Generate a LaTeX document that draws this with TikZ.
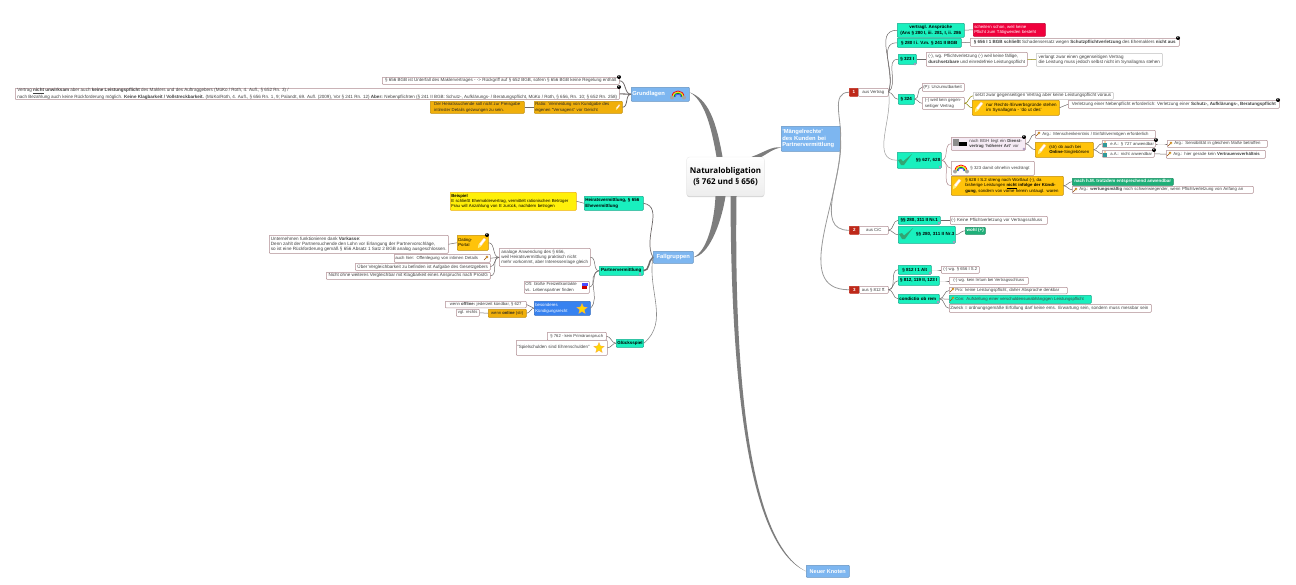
\documentclass[tikz,border=0pt]{standalone}
\usepackage{fontspec}
\setmainfont{Liberation Sans}
\newfontfamily\rootfont{Open Sans}
\usetikzlibrary{positioning,arrows.meta,shapes.geometric,shadows}
\definecolor{boxrose}{RGB}{175,140,145}
\definecolor{linkgray}{RGB}{110,105,105}
\definecolor{ribbongray}{RGB}{125,125,125}
\definecolor{tealfill}{RGB}{25,240,190}
\definecolor{tealdraw}{RGB}{20,170,140}
\definecolor{skyfill}{RGB}{125,182,240}
\definecolor{bluefill}{RGB}{55,130,240}
\definecolor{orangefill}{RGB}{240,175,10}
\definecolor{goldfill}{RGB}{255,195,10}
\definecolor{yellowfill}{RGB}{255,240,10}
\definecolor{redfill}{RGB}{240,0,60}
\definecolor{greenfill}{RGB}{30,175,120}
\definecolor{numred}{RGB}{190,40,25}
\definecolor{leafgreen}{RGB}{50,165,115}
\newcommand{\mapfont}{\fontsize{4.3}{5.3}\selectfont}
\newcommand{\boldfont}{\fontsize{4.5}{5.4}\selectfont\bfseries}
\tikzset{
  wh/.style 2 args={minimum width=#1pt, minimum height=#2pt},
  wt/.style 2 args={text width={#1pt-2pt}, minimum height=#2pt},
  fs/.style={font=\fontsize{#1}{5.3}\selectfont},
  boxstyle/.style={rectangle, rounded corners=.7pt, draw=boxrose, line width=.5pt, fill=white,
    anchor=north west, inner xsep=1pt, inner ysep=.3pt, align=left, font=\mapfont, text=black!75},
  tealstyle/.style={boxstyle, draw=tealdraw, fill=tealfill, font=\boldfont, text=black},
  topicstyle/.style={boxstyle, draw=skyfill!80!black, fill=skyfill, text=white, font=\fontsize{5.8}{6.6}\selectfont\bfseries},
  orangestyle/.style={boxstyle, draw=orangefill!80!black, fill=orangefill, text=black!85},
  goldstyle/.style={boxstyle, draw=orangefill!80!black, fill=goldfill, text=black},
  numstyle/.style={boxstyle, draw=numred, fill=numred, text=white, font=\boldfont, align=center},
  filledstyle/.style={boxstyle, draw=#1!80!black, fill=#1, text=white},
  rootstyle/.style={rectangle, rounded corners=3pt, draw=black!8, top color=white, bottom color=black!7,
    drop shadow={shadow xshift=0pt, shadow yshift=-1.2pt, opacity=.35},
    align=center, minimum width=75pt, minimum height=39pt, font=\rootfont\fontsize{8}{10.4}\selectfont\bfseries},
  linkstyle/.style={linkgray, line width=.5pt, out=0, in=180},
  ribbonstyle/.style={fill=ribbongray, draw=none},
  badgestyle/.style={circle, fill=black, text=white, inner sep=0pt, minimum size=4pt, font=\fontsize{2.8}{3}\selectfont\bfseries},
  markstyle/.style={circle, draw=boxrose!80!blue, fill=white, line width=.3pt, inner sep=0pt, minimum size=2.2pt},
  starstyle/.style={star, star points=5, star point ratio=2.2, fill=yellow!75!orange, draw=orange!70!white,
    line width=.3pt, inner sep=0pt, minimum size=11pt},
  penicon/.pic={
    \fill[white, draw=orange!40!white, line width=.25pt] (-4,5) -- (-3,1) -- (2,-5) -- (4,-3.5) -- (-1,3) -- cycle;
    \fill[yellow!60!white] (-3,1) -- (-1,3) -- (-4,5) -- cycle;
  },
  checkicon/.pic={
    \fill[leafgreen] (-7,0) -- (-4,5) -- (-1,5) -- (7,-6) -- (-2,1.5) -- (-4,-1) -- cycle;
  },
  rainbowicon/.pic={
    \draw[red, line width=.8pt] (-6,3) .. controls (-6,-5) and (6,-5) .. (6,3);
    \draw[yellow!90!orange, line width=.8pt] (-5,3) .. controls (-5,-3.5) and (5,-3.5) .. (5,3);
    \draw[green!60!black, line width=.8pt] (-4,3) .. controls (-4,-2) and (4,-2) .. (4,3);
    \draw[blue!70!white, line width=.8pt] (-3,3) .. controls (-3,-.7) and (3,-.7) .. (3,3);
    \fill[black!35] (-6,3.5) circle (2);
    \fill[black!35] (6,3.5) circle (2);
  },
  keyicon/.pic={
    \draw[orange!70!black, fill=yellow!60!white, line width=.3pt] (1,-1) circle (1.2);
    \draw[orange!60!black, line width=.45pt] (.3,-.3) -- (-2,2);
  },
  personicon/.pic={
    \fill[orange!50!white] (0,-2) circle (1.2);
    \fill[blue!50!green!80!white] (-1.8,-.8) rectangle (1.8,3);
  },
  bookicon/.pic={
    \fill[black!45] (-7,-4) rectangle (-1,3);
    \fill[black] (-1,-1) rectangle (7,3);
  },
  stackicon/.pic={
    \fill[blue!70!white] (-3,-3) rectangle (3,0);
    \fill[red!80!black] (-3,0) rectangle (2,3);
  },
}

\begin{document}
\begin{tikzpicture}[x=1pt, y=-1pt]
  \useasboundingbox (0,0) rectangle (1296,584);

  % centre and main topics
  \node[rootstyle] (root) at (725.5,176.5) {Naturalobligation\\(§ 762 und § 656)};
  \node[topicstyle, wt={58}{14}] (grund) at (631,87) {Grundlagen};
  \node[topicstyle, wt={59}{25}] (maengel) at (781,126) {'Mängelrechte'\\des Kunden bei\\Partnervermittlung};
  \node[topicstyle, wh={40}{12}, align=center] (fall) at (653,251) {Fallgruppen};
  \node[topicstyle, wh={43}{12}, align=center, font=\fontsize{5.5}{6.6}\selectfont\bfseries] (neuer) at (806,565) {Neuer Knoten};

  % Grundlagen
  \node[boxstyle, wh={237}{7}, fs=4.5] (hint) at (382,77) {§ 656 BGB ist Unterfall des Maklervertrages - -> Rückgriff auf § 652 BGB, sofern § 656 BGB keine Regelung enthält};
  \node[boxstyle, wh={604}{11}, fs=4.55] (wirkung) at (15,88) {Vertrag \underline{\textbf{nicht}} \textbf{unwirksam} aber auch \textbf{keine Leistungspflicht} des Maklers und des Auftraggebers (MüKo / Roth, 4. Aufl., § 652 Rn. 3) /\\nach Bezahlung auch keine Rückforderung möglich. \textbf{Keine Klagbarkeit / Vollstreckbarkeit.} (MüKo/Roth, 4. Aufl., § 656 Rn. 1, 9; Palandt, 69. Aufl. (2009), Vor § 241 Rn. 12) \textbf{Aber:} Nebenpflichten (§ 241 II BGB: Schutz-, Aufklärungs- / Beratungspflicht, MüKo / Roth, § 656, Rn. 10; § 652 Rn. 258)};
  \node[orangestyle, wh={94}{12}] (intim) at (430,101) {Der Heiratssuchende soll nicht zur Preisgabe\\intimster Details gezwungen zu sein.};
  \node[orangestyle, wt={88}{12}] (ratio) at (534,101) {Ratio: Vermeidung von Kundgabe des\\eigenen "Versagens" vor Gericht};

  % Fallgruppen
  \node[tealstyle, wt={59}{14}] (heirat) at (584,196) {Heiratsvermittlung, § 656\\Ehevermittlung};
  \node[boxstyle, wt={126}{18}, fill=yellowfill, draw=orangefill, text=black] (beispiel) at (450,192) {\textbf{Beispiel}\\E schließt Ehemaklervertrag, vermittelt rationischen Betrüger\\Frau will Anzahlung von E zurück, nachdem betrogen};
  \node[tealstyle, wh={44}{9}] (partner) at (599,266) {Partnervermittlung};
  \node[boxstyle, wh={91}{18}, fs=4.5] (analog) at (499,248) {analoge Anwendung des § 656,\\weil Heiratsvermittlung praktisch nicht\\mehr vorkommt, aber Interessenlage gleich};
  \node[goldstyle, wt={31}{15}] (dating) at (457,235) {Dating-\\Portal};
  \node[boxstyle, wh={179}{18}, fs=4.6] (vorkasse) at (269,235) {Unternehmen funktionieren dank \textbf{Vorkasse}:\\Denn zahlt der Partnersuchende den Lohn vor Erlangung der Partnervorschläge,\\so ist eine Rückforderung gemäß § 656 Absatz 1 Satz 2 BGB analog ausgeschlossen.};
  \node[boxstyle, wt={96}{8}] (offen) at (394,254) {auch hier: Offenlegung von intimen Details};
  \node[boxstyle, wh={135}{7}, fs=4.55] (gesetz) at (355,263) {Über Vergleichbarkeit zu befinden ist Aufgabe des Gesetzgebers};
  \node[boxstyle, wh={164}{7}, fs=4.55] (prostg) at (326,272) {Nicht ohne weiteres Vergleichbar mit Klagbarkeit eines Anspruchs nach ProstG};
  \node[boxstyle, wt={65}{12}] (oft) at (524,281) {Oft: bloße Freizeitkontakte\\vs. Lebenspartner finden};
  \node[filledstyle=bluefill, wt={56}{14}] (kuendig) at (534,301) {besonderes\\Kündigungsrecht};
  \node[boxstyle, wh={81}{6.5}, fs=4.2] (offline) at (445,301) {wenn \textbf{offline:} jederzeit kündbar, § 627};
  \node[orangestyle, wh={38}{8}, fs=4.2] (online) at (488,309) {wenn \textbf{online} (str)};
  \node[boxstyle, wh={23}{7}, fs=4.2] (rechts) at (456,309) {vgl. rechts};
  \node[tealstyle, wh={27}{8}, align=center] (spiel) at (616,339) {Glücksspiel};
  \node[boxstyle, wh={59}{8}, fs=4.2] (primaer) at (547,332) {§ 762 - kein Primäranspruch};
  \node[boxstyle, wt={91}{15}, fs=4.5] (schulden) at (516,340) {"Spielschulden sind Ehrenschulden"};

  % Mängelrechte
  \node[numstyle, wh={9}{8}] (eins) at (849,88) {1};
  \node[boxstyle, wh={30}{8}, align=center] (vertrag) at (858,88) {aus Vertrag};
  \node[numstyle, wh={10}{8}] (zwei) at (849,226) {2};
  \node[boxstyle, wh={29}{8}, align=center] (cic) at (859,226) {aus CiC};
  \node[numstyle, wh={10}{7}] (drei) at (849,286) {3};
  \node[boxstyle, wh={29}{7}, align=center] (bereich) at (859,286) {aus § 812 ff.};

  \node[tealstyle, wh={67}{14}, align=center] (anspr) at (897,23) {vertragl. Ansprüche\\(Ans § 280 I, iii. 281, I, ii. 286};
  \node[filledstyle=redfill, wt={72}{13}] (schalter) at (973,23) {scheitern schon, weil keine\\Pflicht zum Tätigwerden besteht};
  \node[tealstyle, wh={64}{9}] (pvv) at (897,38) {§ 280 I i. V.m. § 241 II BGB};
  \node[boxstyle, wh={209}{8}, fs=4.5] (schluss) at (970,38) {\textbf{§ 656 I 1 BGB schließt} Schadensersatz wegen \textbf{Schutzpflichtverletzung} des Ehemaklers \textbf{nicht aus}};
  \node[tealstyle, wh={18}{10}] (rueck) at (898,54) {§ 323 I};
  \node[boxstyle, wh={101}{14}, fs=4.5] (pflicht) at (926,52) {(-), wg. Pflichtverletzung (-) weil keine fällige,\\\textbf{durchsetzbare} und einredefreie Leistungspflicht};
  \node[boxstyle, wh={126}{13}, draw=black!25, fs=4.55] (verlangt) at (1036,53) {verlangt zwar einen gegenseitigen Vertrag\\die Leistung muss jedoch selbst nicht im Synallagma stehen};
  \node[tealstyle, wh={16}{10}] (neben) at (898,94) {§ 324};
  \node[boxstyle, wt={42}{8}] (unzumut) at (922,83) {(P): Unzumutbarkeit};
  \node[boxstyle, wh={42}{12}] (gegen) at (922,97) {(-) weil kein gegen-\\seitiger Vertrag};
  \node[boxstyle, wh={140}{7}, draw=black!25, fs=4.55] (setzt) at (973,92) {setzt zwar gegenseitigen Vertrag aber keine Leistungspflicht voraus};
  \node[goldstyle, wt={87}{15}, fs=4.5] (nurrecht) at (972,100) {\hspace*{13pt}nur Rechts-/Erwerbsgründe stehen\\\hspace*{13pt}im Synallagma - 'do ut des'};
  \node[boxstyle, wh={211}{8}, fs=4.5] (verletz) at (1068,100) {Verletzung einer Nebenpflicht erforderlich: Verletzung einer \textbf{Schutz-, Aufklärungs-, Beratungspflicht}};

  \node[tealstyle, wt={44}{16}, align=right] (dienst) at (897,152) {§§ 627, 628};
  \node[boxstyle, wt={74}{13}, fill=violet!8] (bgh) at (951,137) {\hspace*{17pt}nach BGH liegt ein \textbf{Dienst-}\\\hspace*{17pt}\textbf{vertrag 'höherer Art'} vor};
  \node[boxstyle, wt={120}{8}] (menschen) at (1035,130) {\hspace*{6pt}Arg.: Menschenkenntnis / Einfühlvermögen erforderlich};
  \node[goldstyle, wt={58}{15}] (online2) at (1035,142) {\hspace*{13pt}(str) ob auch bei\\\hspace*{13pt}\textbf{Online}-Singlebörsen};
  \node[boxstyle, wt={53}{7}, fs=4.2] (einea) at (1102,140) {\hspace*{7pt}e.A.: § 727 anwendbar};
  \node[boxstyle, wt={52}{7}, fs=4.2] (anderea) at (1102,150) {\hspace*{7pt}a.A.: nicht anwendbar};
  \node[boxstyle, wt={100}{7}] (sensib) at (1167,140) {\hspace*{6pt}Arg.: Sensibilität in gleichem Maße betroffen};
  \node[boxstyle, wt={99}{8}] (vertrauen) at (1166,150) {\hspace*{6pt}Arg.: hier gerade kein \textbf{Vertrauensverhältnis}};
  \node[boxstyle, wt={83}{14}] (ohnehin) at (951,161) {\hspace*{18pt}§ 323 damit ohnehin verdrängt};
  \node[goldstyle, wt={112}{19}] (folge) at (951,176) {\hspace*{13pt}§ 628 I S.2 streng nach Wortlaut (-), da\\\hspace*{13pt}bisherige Leistungen \underline{\textbf{nicht}} \textbf{infolge der Kündi-}\\\hspace*{13pt}\textbf{gung}, sondern von vorne herein untaugl. waren};
  \node[filledstyle=greenfill, wh={101}{7}, font=\boldfont] (hm) at (1072,178) {nach h.M. trotzdem entsprechend anwendbar};
  \node[boxstyle, wt={181}{7}, fs=4.3] (wertung) at (1072,186) {\hspace*{6pt}Arg.: \textbf{wertungsmäßig} noch schwerwiegender, wenn Pflichtverletzung von Anfang an};

  \node[tealstyle, wh={42}{8}] (nreins) at (898,216) {§§ 280, 311 II Nr.1};
  \node[boxstyle, wt={97}{8}, fs=4.4] (keine) at (950,216) {(-) Keine Pflichtverletzung vor Vertragsschluss};
  \node[tealstyle, wt={57}{17}, align=right] (nrdrei) at (898,226) {§§ 280, 311 II Nr.3};
  \node[filledstyle=greenfill, wh={20}{7}, font=\boldfont] (wohl) at (965,227) {wohl (+)};

  \node[tealstyle, wh={33}{9}] (leist) at (898,265) {§ 812 I 1 Alt};
  \node[boxstyle, wh={38}{7}, fs=4.2] (wgsatz) at (941,266) {(-) wg. § 656 I S.2};
  \node[tealstyle, wh={41}{9}] (irrt) at (898,276) {§ 812, 119 II, 123 I};
  \node[boxstyle, wh={79}{7}, fs=4.2] (irrtum) at (949,277) {(-) wg. kein Irrtum bei Vertragsschluss};
  \node[tealstyle, wt={41}{9}] (cond) at (898,294) {condictio ob rem};
  \node[boxstyle, wt={118}{6.5}] (pro) at (949,287) {\hspace*{5pt}Pro: keine Leistungspflicht, daher Absprache denkbar};
  \node[boxstyle, wt={142}{8}, fill=tealfill, draw=tealdraw] (con) at (949,295) {\hspace*{5pt}Con: Aufstellung einer verschuldensunabhängigen Leistungspflicht};
  \node[boxstyle, wt={202}{8}, fs=4.5] (zweck) at (949,304) {Zweck = ordnungsgemäße Erfüllung darf keine ems. Erwartung sein, sondern muss messbar sein};

  % main branches
  \fill[ribbonstyle] ([xshift=-9pt]root.north) .. controls (711,125) and (704,100) .. ([yshift=2pt]grund.east) .. controls (708,99) and (716,120) .. ([xshift=-3pt]root.north) -- cycle;
  \fill[ribbonstyle] ([xshift=-10pt]root.south) .. controls (714,225) and (706,252) .. (fall.east) .. controls (708,256) and (721,225) .. ([xshift=0pt]root.south) -- cycle;
  \fill[ribbonstyle] ([xshift=5pt]root.south) .. controls (731,370) and (746,545) .. (neuer.west) .. controls (748,542) and (734,370) .. ([xshift=11pt]root.south) -- cycle;
  \fill[ribbonstyle] ([xshift=-13pt]root.north east) .. controls (765,152) and (772,146) .. ([yshift=4pt]maengel.south west) .. controls (773,149) and (770,152) .. ([xshift=-3pt]root.north east) -- cycle;

  % connectors
  \draw[linkstyle, line width=.8pt] (hint.east) to (grund.west);
  \draw[linkstyle, line width=1.1pt] (wirkung.east) to (grund.west);
  \draw[linkstyle, line width=.8pt] (ratio.east) to (grund.west);
  \draw[linkstyle] (intim.east) to (ratio.west);
  \draw[linkstyle, line width=.7pt, out=-10, in=120] (heirat.east) to (fall.west);
  \draw[linkstyle, line width=1.5pt, out=0, in=215] (partner.east) to (fall.west);
  \draw[linkstyle, line width=.6pt, black!45, out=40, in=-100] (spiel.east) to (fall.west);
  \draw[linkstyle] (beispiel.east) to (heirat.west);
  \draw[linkstyle] (analog.east) to (partner.west);
  \draw[linkstyle, out=20] (oft.east) to (partner.west);
  \draw[linkstyle, out=45, in=200] (kuendig.east) to (partner.west);
  \draw[linkstyle] (dating.east) to (analog.west);
  \draw[linkstyle] (offen.east) to (analog.west);
  \draw[linkstyle] (gesetz.east) to (analog.west);
  \draw[linkstyle] (prostg.east) to (analog.west);
  \draw[linkstyle] (vorkasse.east) to (dating.west);
  \draw[linkstyle] (offline.east) to (kuendig.west);
  \draw[linkstyle] (online.east) to (kuendig.west);
  \draw[linkstyle] (rechts.east) to (online.west);
  \draw[linkstyle] (primaer.east) to (spiel.west);
  \draw[linkstyle] (schulden.east) to (spiel.west);

  \draw[linkstyle, black!40, line width=.8pt, out=85] (maengel.east) to (eins.west);
  \draw[linkstyle, black!40, line width=.8pt, out=-85] (maengel.east) to (zwei.west);
  \draw[linkstyle, black!40, line width=.8pt, out=-88] (maengel.east) to (drei.west);
  \draw[linkstyle, out=70] (vertrag.east) to (anspr.west);
  \draw[linkstyle, out=70] (vertrag.east) to (pvv.west);
  \draw[linkstyle, out=40] (vertrag.east) to (rueck.west);
  \draw[linkstyle] (vertrag.east) to (neben.west);
  \draw[linkstyle, black!40, out=-80] (vertrag.east) to (dienst.west);
  \draw[linkstyle] (anspr.east) to (schalter.west);
  \draw[linkstyle] (pvv.east) to (schluss.west);
  \draw[linkstyle] (rueck.east) to (pflicht.west);
  \draw[linkstyle, olive] (pflicht.east) to (verlangt.west);
  \draw[linkstyle] (neben.east) to (unzumut.west);
  \draw[linkstyle] (neben.east) to (gegen.west);
  \draw[linkstyle, olive] (gegen.east) to (setzt.west);
  \draw[linkstyle, olive] (gegen.east) to (nurrecht.west);
  \draw[linkstyle] (nurrecht.east) to (verletz.west);
  \draw[linkstyle, boxrose] (dienst.east) to (bgh.west);
  \draw[linkstyle, boxrose] (dienst.east) to (ohnehin.west);
  \draw[linkstyle, boxrose] (dienst.east) to (folge.west);
  \draw[linkstyle] (bgh.east) to (menschen.west);
  \draw[linkstyle] (bgh.east) to (online2.west);
  \draw[linkstyle] (online2.east) to (einea.west);
  \draw[linkstyle] (online2.east) to (anderea.west);
  \draw[linkstyle] (einea.east) to (sensib.west);
  \draw[linkstyle] (anderea.east) to (vertrauen.west);
  \draw[linkstyle] (folge.east) to (hm.west);
  \draw[linkstyle] (folge.east) to (wertung.west);
  \draw[linkstyle] (cic.east) to (nreins.west);
  \draw[linkstyle] (cic.east) to (nrdrei.west);
  \draw[linkstyle] (nreins.east) to (keine.west);
  \draw[linkstyle] (nrdrei.east) to (wohl.west);
  \draw[linkstyle] (bereich.east) to (leist.west);
  \draw[linkstyle] (bereich.east) to (irrt.west);
  \draw[linkstyle] (bereich.east) to (cond.west);
  \draw[linkstyle] (leist.east) to (wgsatz.west);
  \draw[linkstyle] (irrt.east) to (irrtum.west);
  \draw[linkstyle] (cond.east) to (pro.west);
  \draw[linkstyle] (cond.east) to (con.west);
  \draw[linkstyle] (cond.east) to (zweck.west);

  % icons
  \pic at (678,94) {rainbowicon};
  \pic at (961,168) {rainbowicon};
  \pic[scale=.5] at (618,107) {penicon};
  \pic at (482,243) {penicon};
  \pic at (979,107) {penicon};
  \pic at (1042,149) {penicon};
  \pic at (957,184) {penicon};
  \pic at (905,160) {checkicon};
  \pic at (906,234) {checkicon};
  \pic at (960,143) {bookicon};
  \pic at (585,286) {stackicon};
  \pic at (1105,144) {personicon};
  \pic at (1105,154) {personicon};
  \pic at (1038,134) {keyicon};
  \pic at (1170,144) {keyicon};
  \pic at (1169,154) {keyicon};
  \pic at (1075,190) {keyicon};
  \pic at (486,258) {keyicon};
  \pic at (952,290) {keyicon};
  \pic at (952,299) {keyicon};
  \node[starstyle] (starkuendig) at (582,309) {};
  \node[starstyle] (starspiel) at (599,348) {};

  % numbered badges and note marks
  \node[badgestyle] (badgehint) at (619,77) {2};
  \node[badgestyle] (badgewirkung) at (619,87) {2};
  \node[badgestyle] (badgedating) at (487,235) {2};
  \node[badgestyle] (badgeschluss) at (1178,38) {2};
  \node[badgestyle] (badgeverletz) at (1278,100) {2};
  \node[badgestyle] (badgebgh) at (1024,137) {2};
  \node[badgestyle] (badgeeinea) at (1156,140) {2};
  \node[badgestyle] (badgeanderea) at (1154,150) {2};
  \node[markstyle] (markpartner) at (640,274) {};
  \node[markstyle] (markrueck) at (915,64) {};
  \node[markstyle] (markdienst) at (940,167) {};
  \node[markstyle] (markbgh) at (1024,149) {};
  \node[markstyle] (markeins) at (939,223) {};
  \node[markstyle] (markdrei) at (954,242) {};
  \node[markstyle] (markleist) at (930,273) {};
  \node[markstyle] (markcond) at (938,302) {};
\end{tikzpicture}
\end{document}
